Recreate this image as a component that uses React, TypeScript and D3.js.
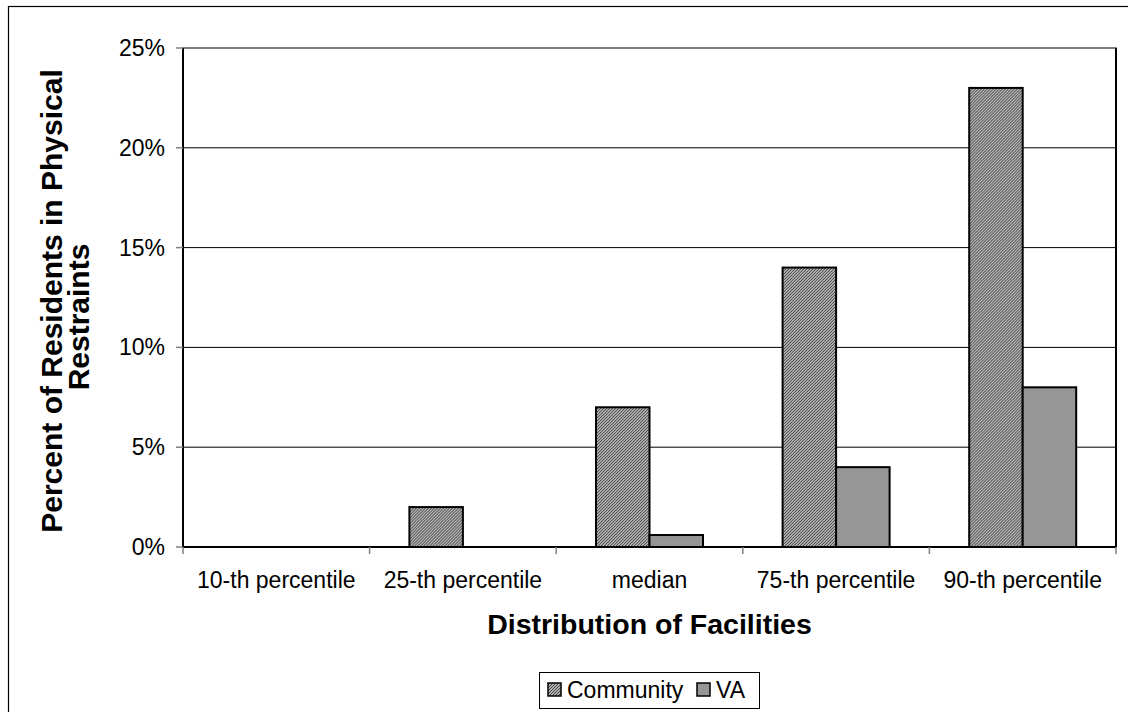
import React from "react";
import * as d3 from "d3";

const categories = ["10-th percentile", "25-th percentile", "median", "75-th percentile", "90-th percentile"];
const seriesNames = ["Community", "VA"];
const communityValues = [0, 0.02, 0.07, 0.14, 0.23];
const vaValues = [0, 0, 0.006, 0.04, 0.08];
const yTicks = [0, 0.05, 0.1, 0.15, 0.2, 0.25];

const W = 1128;
const H = 712;
const plot = { left: 183, right: 1116, top: 48, bottom: 547 };
const FONT = "'Liberation Sans', Arial, sans-serif";

export default function App() {
  const x0 = d3.scaleBand<string>().domain(categories).range([plot.left, plot.right]).padding(0);
  const x1 = d3
    .scaleBand<string>()
    .domain(seriesNames)
    .range([0, x0.bandwidth()])
    .paddingInner(0)
    .paddingOuter(0.744);
  const y = d3.scaleLinear().domain([0, 0.25]).range([plot.bottom, plot.top]);
  const fmt = d3.format(".0%");

  const rows = categories.map((c, i) => ({ c, vals: [communityValues[i], vaValues[i]] }));
  const fills = ["url(#hatch)", "#969696"];
  const boundaries = d3.range(categories.length + 1).map((i) => plot.left + i * x0.step());

  return (
    <svg
      width={W}
      height={H}
      style={{ position: "absolute", left: 0, top: 0, background: "#fff", fontFamily: FONT }}
    >
      <defs>
        <pattern id="hatch" patternUnits="userSpaceOnUse" width={3} height={3}>
          <rect width={3} height={3} fill="#e8e8e8" />
          <path d="M-1,1 l2,-2 M0,3 l3,-3 M2,4 l2,-2" stroke="#333" strokeWidth={1.1} />
        </pattern>
      </defs>

      {/* chart frame */}
      <rect x={8.5} y={6.5} width={W + 20} height={H + 20} fill="#fff" stroke="#000" strokeWidth={1.2} />

      {/* plot area border */}
      <rect
        x={plot.left}
        y={plot.top}
        width={plot.right - plot.left}
        height={plot.bottom - plot.top}
        fill="#fff"
        stroke="#555"
        strokeWidth={1.5}
      />
      <line x1={plot.right} x2={plot.right} y1={plot.top} y2={plot.bottom} stroke="#000" strokeWidth={2} />

      {/* gridlines */}
      {yTicks
        .filter((t) => t > 0 && t < 0.25)
        .map((t) => (
          <line key={t} x1={plot.left} x2={plot.right} y1={y(t)} y2={y(t)} stroke="#000" strokeWidth={1} />
        ))}

      {/* bars */}
      {rows.map((r) => (
        <g key={r.c} transform={`translate(${x0(r.c)},0)`}>
          {r.vals.map((v, j) =>
            v > 0 ? (
              <rect
                key={j}
                x={x1(seriesNames[j])}
                y={y(v)}
                width={x1.bandwidth()}
                height={y(0) - y(v)}
                fill={fills[j]}
                stroke="#000"
                strokeWidth={2}
              />
            ) : null
          )}
        </g>
      ))}

      {/* axes */}
      <line x1={plot.left} x2={plot.left} y1={plot.top} y2={plot.bottom} stroke="#000" strokeWidth={2} />
      <line x1={plot.left} x2={plot.right} y1={plot.bottom} y2={plot.bottom} stroke="#000" strokeWidth={2} />

      {/* y ticks */}
      {yTicks.map((t) => (
        <g key={t}>
          <line x1={plot.left - 7} x2={plot.left} y1={y(t)} y2={y(t)} stroke="#808080" strokeWidth={1.5} />
          <text x={165} y={y(t) + 8} textAnchor="end" fontSize={23} fill="#000">
            {fmt(t)}
          </text>
        </g>
      ))}

      {/* x ticks */}
      {boundaries.map((b, i) => (
        <line key={i} x1={b} x2={b} y1={plot.bottom} y2={plot.bottom + 7} stroke="#808080" strokeWidth={1.5} />
      ))}
      {categories.map((c) => (
        <text key={c} x={(x0(c) as number) + x0.bandwidth() / 2} y={588} textAnchor="middle" fontSize={23} fill="#000">
          {c}
        </text>
      ))}

      {/* axis titles */}
      <text x={(plot.left + plot.right) / 2} y={634} textAnchor="middle" fontSize={28.5} fontWeight="bold" fill="#000">
        Distribution of Facilities
      </text>
      <text transform="translate(62,301) rotate(-90)" textAnchor="middle" fontSize={30} fontWeight="bold" fill="#000">
        Percent of Residents in Physical
      </text>
      <text transform="translate(89,317) rotate(-90)" textAnchor="middle" fontSize={30} fontWeight="bold" fill="#000">
        Restraints
      </text>

      {/* legend */}
      <rect x={539.5} y={672.5} width={220} height={36} fill="#fff" stroke="#000" strokeWidth={1} />
      {seriesNames.map((s, i) => {
        const sx = [548, 697][i];
        return (
          <g key={s}>
            <rect x={sx} y={683} width={13} height={13} fill={fills[i]} stroke="#000" strokeWidth={1.5} />
            <text x={sx + 19} y={698} fontSize={23} fill="#000">
              {s}
            </text>
          </g>
        );
      })}
    </svg>
  );
}
